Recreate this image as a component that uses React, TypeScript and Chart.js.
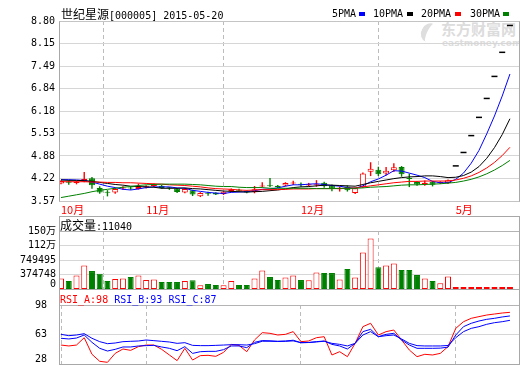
import React, { useEffect, useRef } from 'react';
import { Chart, registerables } from 'chart.js';

Chart.register(...registerables);

// ---------------- data ----------------
const openPrice = [4.08,4.14,4.09,4.13,4.23,3.95,3.83,3.82,3.93,3.95, 3.92,3.96,4.00,4.01,3.96,3.93,3.82,3.88,3.71,3.80, 3.81,3.77,3.85,3.90,3.86,3.83,3.99,4.03,4.01,4.02, 4.08,4.07,4.02,4.03,4.10,4.02,3.91,3.99,3.80,3.97, 4.42,4.48,4.37,4.46,4.56,4.24,4.12,4.06,4.13,4.09, 4.09,4.59,4.98,5.47,6.00,6.55,7.19,7.89,8.67];
const highPrice = [4.17,4.16,4.15,4.41,4.26,3.99,3.88,3.94,3.99,3.98, 4.07,4.02,4.07,4.03,3.97,3.94,3.94,3.89,3.82,3.83, 3.82,3.85,3.93,3.92,3.87,4.00,4.11,4.23,4.03,4.11, 4.15,4.10,4.09,4.17,4.12,4.04,3.99,4.02,3.95,4.39, 4.69,4.56,4.55,4.66,4.58,4.36,4.14,4.16,4.15,4.14, 4.19,4.59,4.98,5.47,6.00,6.55,7.19,7.89,8.67];
const lowPrice = [4.06,4.05,4.06,4.12,3.93,3.79,3.71,3.79,3.90,3.90, 3.91,3.94,3.98,3.93,3.90,3.81,3.80,3.72,3.69,3.73, 3.75,3.75,3.83,3.85,3.80,3.80,3.97,3.98,3.95,4.00, 4.04,3.99,4.00,3.99,3.96,3.86,3.85,3.85,3.78,3.95, 4.30,4.30,4.32,4.42,4.28,3.98,4.02,4.02,4.00,4.07, 4.07,4.59,4.98,5.47,6.00,6.55,7.19,7.89,8.67];
const closePrice = [4.15,4.10,4.12,4.21,4.03,3.82,3.81,3.92,3.95,3.93, 3.98,4.00,4.05,3.95,3.94,3.83,3.92,3.76,3.80,3.78, 3.76,3.84,3.91,3.87,3.82,3.91,4.02,4.00,3.98,4.09, 4.11,4.04,4.06,4.06,4.00,3.93,3.95,3.88,3.94,4.37, 4.51,4.35,4.45,4.55,4.35,4.21,4.05,4.10,4.04,4.12, 4.17,4.59,4.98,5.47,6.00,6.55,7.19,7.89,8.67];

const ma5 = [4.19,4.19,4.18,4.17,4.12,4.06,4.00,3.96,3.91,3.89, 3.92,3.96,3.98,3.98,3.98,3.95,3.94,3.88,3.85,3.82, 3.80,3.79,3.82,3.83,3.84,3.87,3.91,3.92,3.95,4.00, 4.04,4.04,4.06,4.07,4.05,4.02,4.00,3.96,3.94,4.01, 4.13,4.21,4.32,4.45,4.44,4.38,4.32,4.25,4.14,4.10, 4.10,4.20,4.38,4.67,5.04,5.52,6.04,6.62,7.26];
const ma10 = [4.18,4.17,4.17,4.16,4.14,4.11,4.08,4.05,4.03,4.00, 3.99,3.98,3.97,3.94,3.94,3.94,3.95,3.93,3.92,3.90, 3.88,3.86,3.85,3.84,3.83,3.84,3.85,3.87,3.89,3.92, 3.96,3.98,3.99,4.01,4.03,4.03,4.02,4.01,4.00,4.05, 4.10,4.14,4.18,4.22,4.25,4.27,4.28,4.30,4.30,4.28, 4.25,4.26,4.31,4.41,4.57,4.81,5.12,5.50,5.96];
const ma20 = [4.13,4.13,4.13,4.13,4.12,4.12,4.11,4.11,4.10,4.10, 4.09,4.08,4.07,4.06,4.04,4.03,4.02,4.00,3.98,3.95, 3.93,3.92,3.91,3.89,3.88,3.89,3.90,3.90,3.90,3.91, 3.92,3.92,3.92,3.93,3.93,3.93,3.93,3.94,3.95,3.98, 4.01,4.04,4.07,4.10,4.12,4.14,4.14,4.15,4.15,4.15, 4.15,4.18,4.23,4.30,4.40,4.53,4.69,4.89,5.13];
const ma30 = [3.67,3.71,3.75,3.79,3.84,3.88,3.91,3.94,3.97,3.99, 4.02,4.04,4.05,4.06,4.06,4.06,4.06,4.05,4.04,4.02, 4.00,3.99,3.99,3.97,3.96,3.96,3.96,3.94,3.94,3.94, 3.94,3.94,3.94,3.93,3.93,3.93,3.94,3.94,3.94,3.95, 3.97,3.98,3.99,4.01,4.03,4.04,4.04,4.05,4.06,4.07, 4.09,4.11,4.15,4.20,4.27,4.36,4.47,4.60,4.75];

const volume = [274000,206000,351000,608000,463000,394000,206000,257000,274000,308000, 351000,231000,248000,180000,180000,180000,206000,223000,94000,128000, 103000,94000,206000,103000,103000,274000,480000,308000,231000,300000, 351000,231000,223000,428000,411000,411000,248000,514000,300000,942000, 1302000,565000,608000,660000,488000,488000,360000,274000,206000,146000, 326000,35000,28000,22000,18000,15000,14000,12000,11040];

const rsiA = [50.5,49.4,50.5,59.2,39.5,31.2,30.0,40.6,45.8,44.2, 48.6,50.5,50.5,45.4,38.7,32.0,46.6,32.7,37.9,38.3, 37.1,41.8,51.3,50.1,42.6,56.5,65.2,64.4,62.4,63.2, 66.4,54.5,55.3,59.2,60.4,38.7,42.6,36.7,52.5,72.3, 76.3,62.4,66.4,68.3,56.5,44.6,36.7,39.5,38.7,40.6, 48.6,70.3,78.2,82.2,84.2,86.1,87.3,88.5,89.3];
const rsiB = [58.5,57.7,58.8,62.4,53.7,46.6,43.4,45.4,48.2,48.2, 49.4,49.8,50.1,48.2,46.6,43.8,48.6,40.6,42.6,43.0, 43.0,45.0,49.4,49.4,47.4,53.7,55.8,55.5,55.0,55.3, 56.2,53.3,53.5,54.5,55.3,51.3,49.4,45.8,52.5,66.4, 69.1,60.4,63.2,64.4,56.5,50.5,46.6,46.6,46.6,46.8, 48.0,62.4,72.3,76.3,79.0,81.0,82.2,83.8,85.0];
const rsiC = [63.2,61.6,62.4,64.0,58.5,54.5,52.1,52.9,54.5,54.9, 55.3,56.5,55.7,54.9,54.1,52.5,53.3,50.1,49.8,49.8, 50.1,50.5,50.9,50.9,50.5,52.1,55.0,55.0,54.7,54.9, 55.4,53.3,53.5,54.2,55.0,52.5,51.3,49.4,52.5,62.4, 66.4,60.4,61.6,62.4,57.7,52.5,49.8,49.4,49.4,49.4, 50.0,59.2,66.4,70.3,72.3,75.1,77.0,78.2,79.8];

const monthTickIdx = [0, 11, 31, 51];
const monthLabels = ['10月', '11月', '12月', '5月'];
const priceTicks = [3.57, 4.22, 4.88, 5.53, 6.18, 6.84, 7.49, 8.15, 8.80];
const priceTickLabels = ['3.57', '4.22', '4.88', '5.53', '6.18', '6.84', '7.49', '8.15', '8.80'];
const volumeTicks = [0, 374748, 749495, 1124243, 1498990];
const volumeTickLabels = ['0', '374748', '749495', '112万', '150万'];
const rsiTicks = [28, 63, 98];
const rsiTickLabels = ['28', '63', '98'];

// ---------------- styles ----------------
const RED = '#ff0000';
const GREEN = '#008000';
const BLUE = '#0000ff';
const BLACK = '#000000';
const GRID = '#d6d6d6';
const FRAME = '#a8a8a8';
const MONO = "'DejaVu Sans Mono', 'Noto Sans CJK SC', monospace";
const CJK = "'Noto Sans CJK SC', sans-serif";
const X_MIN = -0.26;
const X_MAX = 59.17;

function xAxis(showLabels: boolean): any {
  return {
    type: 'linear',
    min: X_MIN,
    max: X_MAX,
    offset: false,
    afterBuildTicks: (s: any) => { s.ticks = monthTickIdx.map((v) => ({ value: v })); },
    afterFit: (s: any) => { s.height = showLabels ? 15 : 0; },
    ticks: {
      display: showLabels,
      autoSkip: false,
      maxRotation: 0,
      minRotation: 0,
      align: 'start',
      padding: 2,
      color: RED,
      font: { family: CJK, size: 11 },
      callback: (_v: any, i: number) => monthLabels[i],
    },
    grid: { color: '#bcbcbc', lineWidth: 1, drawTicks: false },
    border: { display: false, dash: [4, 3] },
  };
}

function leftAxis(ticks: number[], labels: string[], min: number, max: number, pad: number, topVal: number | null): any {
  return {
    type: 'linear',
    position: 'left',
    weight: 1,
    min, max,
    afterBuildTicks: (s: any) => { s.ticks = ticks.map((v) => ({ value: v })); },
    afterFit: (s: any) => { s.width = 59; },
    ticks: {
      padding: pad,
      color: BLACK,
      font: { family: MONO, size: 10 },
      callback: (_v: any, i: number) => labels[i],
    },
    grid: {
      drawTicks: false,
      color: (c: any) => (topVal !== null && c.tick && c.tick.value === topVal ? '#b4b4b4' : GRID),
    },
    border: { display: true, color: FRAME },
  };
}

// zero-width axis at the plot's left edge that carries only the bottom label,
// with the label's baseline sitting on the bottom gridline (mirrored so it is not clipped)
function bottomLabelAxis(value: number, label: string, min: number, max: number, leftShift: number): any {
  return {
    type: 'linear',
    position: 'left',
    weight: 0,
    min, max,
    afterBuildTicks: (s: any) => { s.ticks = [{ value }]; },
    afterFit: (s: any) => { s.width = 0; },
    ticks: {
      mirror: true,
      crossAlign: 'near',
      padding: leftShift,
      align: 'end',
      color: BLACK,
      font: { family: MONO, size: 10 },
      callback: () => label,
    },
    grid: { display: false, drawTicks: false },
    border: { display: false },
  };
}

function baseOptions(padding: any): any {
  return {
    responsive: false,
    maintainAspectRatio: false,
    animation: false,
    devicePixelRatio: 1,
    events: [],
    layout: { padding, autoPadding: false },
    plugins: { legend: { display: false }, tooltip: { enabled: false }, title: { display: false } },
  };
}

const idx = closePrice.map((_, i) => i);
const isUp = (i: number) => closePrice[i] >= openPrice[i];
const ranged = idx.filter((i) => highPrice[i] !== lowPrice[i]);
const flat = idx.filter((i) => highPrice[i] === lowPrice[i]);
const pts = (arr: number[]) => arr.map((v, i) => ({ x: i, y: v }));

function mainConfig(): any {
  return {
    type: 'bar',
    data: {
      datasets: [
        {
          type: 'bar',
          data: ranged.map((i) => ({ x: i, y: [lowPrice[i], highPrice[i]] })),
          backgroundColor: ranged.map((i) => (isUp(i) ? RED : GREEN)),
          borderWidth: 0,
          barThickness: 1,
          inflateAmount: 0.2,
          grouped: false,
          order: 4,
        },
        {
          type: 'bar',
          data: ranged.map((i) => ({ x: i, y: [Math.min(openPrice[i], closePrice[i]), Math.max(openPrice[i], closePrice[i])] })),
          backgroundColor: ranged.map((i) => (isUp(i) ? '#ffffff' : GREEN)),
          borderColor: ranged.map((i) => (isUp(i) ? RED : GREEN)),
          borderWidth: 1,
          borderSkipped: false,
          barThickness: 6,
          inflateAmount: 0,
          minBarLength: 1,
          grouped: false,
          order: 3,
        },
        { type: 'line', data: pts(ma30), borderColor: GREEN, borderWidth: 1, pointRadius: 0, tension: 0, order: 2 },
        { type: 'line', data: pts(ma20), borderColor: RED, borderWidth: 1, pointRadius: 0, tension: 0, order: 2 },
        { type: 'line', data: pts(ma10), borderColor: BLACK, borderWidth: 1, pointRadius: 0, tension: 0, order: 2 },
        { type: 'line', data: pts(ma5), borderColor: BLUE, borderWidth: 1, pointRadius: 0, tension: 0, order: 2 },
        {
          type: 'line',
          data: flat.map((i) => ({ x: i, y: closePrice[i] })),
          showLine: false,
          pointStyle: 'line',
          pointRadius: 3,
          pointBorderColor: BLACK,
          pointBorderWidth: 1.5,
          borderColor: BLACK,
          order: 0,
        },
      ],
    },
    options: {
      ...baseOptions({ top: 21, bottom: 149, left: 0, right: 1 }),
      scales: {
        x: xAxis(true),
        y: leftAxis(priceTicks, priceTickLabels, 3.57, 8.8, 4, null),
      },
    },
  };
}

function volumeConfig(): any {
  const vmax = volumeTicks[volumeTicks.length - 1];
  return {
    type: 'bar',
    data: {
      datasets: [
        {
          type: 'bar',
          data: volume.map((v, i) => ({ x: i, y: v })),
          backgroundColor: idx.map((i) => (isUp(i) ? '#ffffff' : GREEN)),
          borderColor: idx.map((i) => (isUp(i) ? RED : GREEN)),
          borderWidth: 1,
          borderSkipped: false,
          barThickness: 6,
          inflateAmount: 0,
          minBarLength: 2,
          grouped: false,
        },
      ],
    },
    options: {
      ...baseOptions({ top: 231, bottom: 76, left: 0, right: 1 }),
      scales: {
        x: xAxis(false),
        y: leftAxis(volumeTicks.slice(1), volumeTickLabels.slice(1), 0, vmax, 3, vmax),
        y0: bottomLabelAxis(volumeTicks[0], volumeTickLabels[0], 0, vmax, -9),
      },
    },
  };
}

function rsiConfig(): any {
  return {
    type: 'line',
    data: {
      datasets: [
        { data: pts(rsiC), borderColor: BLUE, borderWidth: 1, pointRadius: 0, tension: 0 },
        { data: pts(rsiB), borderColor: BLUE, borderWidth: 1, pointRadius: 0, tension: 0 },
        { data: pts(rsiA), borderColor: RED, borderWidth: 1, pointRadius: 0, tension: 0 },
      ],
    },
    options: {
      // the RSI canvas is taller than the window; its plot bottom lands on y = 364
      ...baseOptions({ top: 305, bottom: 56, left: 0, right: 1 }),
      scales: {
        x: xAxis(false),
        y: leftAxis(rsiTicks.slice(1), rsiTickLabels.slice(1), 28, 98, 12, 98),
        y0: bottomLabelAxis(rsiTicks[0], rsiTickLabels[0], 28, 98, -24),
      },
    },
  };
}

const canvasStyle: React.CSSProperties = { position: 'absolute', left: 0, top: 0, width: 520, height: 365 };
const tallCanvasStyle: React.CSSProperties = { position: 'absolute', left: 0, top: 0, width: 520, height: 420 };
const abs = (s: React.CSSProperties): React.CSSProperties => ({ position: 'absolute', whiteSpace: 'nowrap', ...s });

export default function App() {
  const mainRef = useRef<HTMLCanvasElement>(null);
  const volRef = useRef<HTMLCanvasElement>(null);
  const rsiRef = useRef<HTMLCanvasElement>(null);

  useEffect(() => {
    const charts: Chart[] = [];
    if (mainRef.current) charts.push(new Chart(mainRef.current, mainConfig()));
    if (volRef.current) charts.push(new Chart(volRef.current, volumeConfig()));
    if (rsiRef.current) charts.push(new Chart(rsiRef.current, rsiConfig()));
    return () => charts.forEach((c) => c.destroy());
  }, []);

  const legendText = (left: number, text: string) => (
    <div style={abs({ left, top: 7, fontFamily: MONO, fontSize: 10, lineHeight: '14px', color: BLACK })}>{text}</div>
  );
  const legendBox = (left: number, color: string) => (
    <div style={abs({ left, top: 12, width: 6, height: 4, background: color })} />
  );

  return (
    <div style={{ position: 'fixed', left: 0, top: 0, width: 520, height: 365, background: '#ffffff', overflow: 'hidden' }}>
      {/* watermark */}
      <div style={abs({ left: 421, top: 23, width: 12, height: 20, borderLeft: '6px solid #dedede', borderRadius: '50%', transform: 'rotate(25deg)' })} />
      <div style={abs({ left: 441, top: 21, fontFamily: CJK, fontWeight: 700, fontSize: 15, lineHeight: '16px', color: '#dcdcdc' })}>东方财富网</div>
      <div style={abs({ left: 442, top: 38, fontFamily: "'DejaVu Sans', sans-serif", fontWeight: 700, fontSize: 9, lineHeight: '10px', color: '#dcdcdc' })}>eastmoney.com</div>

      <canvas ref={mainRef} width={520} height={365} style={canvasStyle} />
      <canvas ref={volRef} width={520} height={365} style={canvasStyle} />
      <canvas ref={rsiRef} width={520} height={420} style={tallCanvasStyle} />

      {/* panel frames */}
      <div style={abs({ left: 59, top: 21, width: 461, height: 181, boxSizing: 'border-box', border: `1px solid ${FRAME}`, borderTopColor: '#c4c4c4', borderBottomColor: '#c4c4c4' })} />
      <div style={abs({ left: 59, top: 216, width: 461, height: 74, boxSizing: 'border-box', border: `1px solid ${FRAME}` })} />
      <div style={abs({ left: 59, top: 289, width: 461, height: 76, boxSizing: 'border-box', border: `1px solid ${FRAME}` })} />

      {/* title */}
      <div style={abs({ left: 61, top: 7, lineHeight: '14px', color: BLACK })}>
        <span style={{ fontFamily: CJK, fontSize: 12 }}>世纪星源</span>
        <span style={{ fontFamily: MONO, fontSize: 10 }}>[000005] 2015-05-20</span>
      </div>

      {/* legend */}
      {legendText(332, '5PMA')}
      {legendBox(359, BLUE)}
      {legendText(373, '10PMA')}
      {legendBox(407, BLACK)}
      {legendText(421, '20PMA')}
      {legendBox(455, RED)}
      {legendText(470, '30PMA')}
      {legendBox(503, GREEN)}

      {/* volume header */}
      <div style={abs({ left: 60, top: 218, lineHeight: '14px', color: BLACK })}>
        <span style={{ fontFamily: CJK, fontSize: 12 }}>成交量</span>
        <span style={{ fontFamily: MONO, fontSize: 10 }}>:11040</span>
      </div>

      {/* RSI header */}
      <div style={abs({ left: 60, top: 293, lineHeight: '14px', fontFamily: MONO, fontSize: 10 })}>
        <span style={{ color: RED }}>RSI_A:98</span>
        <span style={{ color: BLUE }}> RSI_B:93</span>
        <span style={{ color: BLUE }}> RSI_C:87</span>
      </div>
    </div>
  );
}
